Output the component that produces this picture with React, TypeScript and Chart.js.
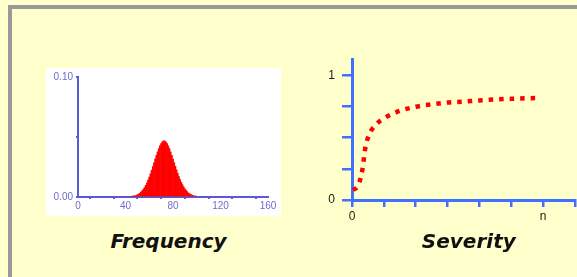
import React, { useEffect, useRef } from "react";
import { Chart, registerables } from "chart.js";

Chart.register(...registerables);

// ---- Frequency histogram data ----
const freqX = [46, 47, 48, 49, 50, 51, 52, 53, 54, 55, 56, 57, 58, 59, 60, 61, 62, 63, 64, 65, 66, 67, 68, 69, 70, 71, 72, 73, 74, 75, 76, 77, 78, 79, 80, 81, 82, 83, 84, 85, 86, 87, 88, 89, 90, 91, 92, 93, 94, 95, 96, 97, 98, 99];
const freqY = [0.0004, 0.0006, 0.0009, 0.0013, 0.0018, 0.0024, 0.0031, 0.004, 0.0051, 0.0064, 0.0079, 0.0097, 0.0117, 0.014, 0.0166, 0.0193, 0.0223, 0.0254, 0.0285, 0.0317, 0.0347, 0.0376, 0.0403, 0.0426, 0.0445, 0.0459, 0.0468, 0.0467, 0.0459, 0.0445, 0.0426, 0.0403, 0.0376, 0.0347, 0.0317, 0.0286, 0.0256, 0.0226, 0.0197, 0.017, 0.0145, 0.0122, 0.0102, 0.0084, 0.0068, 0.0055, 0.0044, 0.0034, 0.0027, 0.002, 0.0015, 0.0011, 0.0008, 0.0005];
const freqXTicks = [0, 40, 80, 120, 160];
const freqYTicks = [0, 0.1];

// ---- Severity curve data ----
const sevX = [0.03, 0.2, 0.33, 0.42, 0.55, 0.75, 1.0, 1.5, 2.0, 2.5, 3.0, 3.5, 4.0, 4.5, 5.0, 5.5, 5.8];
const sevY = [0.08, 0.12, 0.25, 0.42, 0.53, 0.605, 0.655, 0.715, 0.748, 0.768, 0.782, 0.79, 0.799, 0.807, 0.812, 0.817, 0.818];
const sevXLabels: Record<number, string> = { 0: "0", 6: "n" };
const sevYLabels: Record<number, string> = { 0: "0", 1: "1" };

const labelFont = "'DejaVu Sans', Verdana, sans-serif";

function FrequencyChart() {
  const ref = useRef<HTMLCanvasElement>(null);
  useEffect(() => {
    if (!ref.current) return;
    const axisColor = "#5a5ad8";
    const tickColor = "#6c6cd0";
    const chart = new Chart(ref.current, {
      type: "bar",
      data: {
        datasets: [
          {
            data: freqX.map((x, i) => ({ x, y: freqY[i] })),
            backgroundColor: "#ff0000",
            borderWidth: 0,
            barPercentage: 1,
            categoryPercentage: 1,
          },
        ],
      },
      options: {
        animation: false,
        responsive: true,
        maintainAspectRatio: false,
        events: [],
        layout: { padding: { top: 7.7, right: 14, left: 0, bottom: 0 } },
        plugins: { legend: { display: false }, tooltip: { enabled: false } },
        scales: {
          x: {
            type: "linear",
            offset: false,
            min: 0,
            max: 160,
            afterFit: (s: any) => {
              s.height = 19;
            },
            ticks: {
              stepSize: 20,
              maxRotation: 0,
              autoSkip: false,
              padding: 1,
              color: tickColor,
              font: { family: "'Liberation Sans', Arial, sans-serif", size: 10 },
              callback: (v: any) => (freqXTicks.includes(Number(v)) ? String(v) : ""),
            },
            grid: { drawOnChartArea: false, tickLength: 2, color: axisColor, lineWidth: 2 },
            border: { color: axisColor, width: 2 },
          },
          y: {
            min: 0,
            max: 0.1,
            afterFit: (s: any) => {
              s.width = 32;
            },
            ticks: {
              stepSize: 0.05,
              padding: 3,
              color: tickColor,
              font: { family: "'Liberation Sans', Arial, sans-serif", size: 10 },
              callback: (v: any) =>
                freqYTicks.some((t) => Math.abs(t - Number(v)) < 1e-9) ? Number(v).toFixed(2) : "",
            },
            grid: { drawOnChartArea: false, tickLength: 2, color: axisColor, lineWidth: 2 },
            border: { color: axisColor, width: 2 },
          },
        },
      },
    } as any);
    return () => chart.destroy();
  }, []);
  return <canvas ref={ref} />;
}

function SeverityChart() {
  const ref = useRef<HTMLCanvasElement>(null);
  useEffect(() => {
    if (!ref.current) return;
    const blue = "#4070ff";
    const tickFont = { family: "'Liberation Sans', Arial, sans-serif", size: 12 };
    const chart = new Chart(ref.current, {
      type: "line",
      data: {
        datasets: [
          {
            data: sevX.map((x, i) => ({ x, y: sevY[i] })),
            borderColor: "#ff0000",
            borderWidth: 4.5,
            borderDash: [4.5, 6],
            borderCapStyle: "butt",
            pointRadius: 0,
            fill: false,
            cubicInterpolationMode: "monotone",
          },
        ],
      },
      options: {
        animation: false,
        responsive: true,
        maintainAspectRatio: false,
        events: [],
        layout: { padding: { top: 10, right: 0, left: 0, bottom: 0 } },
        plugins: { legend: { display: false }, tooltip: { enabled: false } },
        scales: {
          x: {
            type: "linear",
            min: 0,
            max: 7.02,
            afterFit: (s: any) => {
              s.height = 30;
            },
            ticks: {
              stepSize: 1,
              includeBounds: false,
              autoSkip: false,
              maxRotation: 0,
              padding: 2,
              color: "#1a1a1a",
              font: tickFont,
              callback: (v: any) => sevXLabels[Number(v)] ?? "",
            },
            grid: { drawOnChartArea: false, tickLength: 7, color: blue, lineWidth: 2.5 },
            border: { color: blue, width: 3 },
          },
          y: {
            min: 0,
            max: 1.13,
            afterFit: (s: any) => {
              s.width = 52;
            },
            ticks: {
              stepSize: 0.25,
              includeBounds: false,
              padding: 7,
              color: "#1a1a1a",
              font: tickFont,
              callback: (v: any) => sevYLabels[Number(v)] ?? "",
            },
            grid: { drawOnChartArea: false, tickLength: 10, color: blue, lineWidth: 2.5 },
            border: { color: blue, width: 3 },
          },
        },
      },
    } as any);
    return () => chart.destroy();
  }, []);
  return <canvas ref={ref} />;
}

export default function App() {
  const caption: React.CSSProperties = {
    position: "absolute",
    width: 200,
    textAlign: "center",
    fontFamily: labelFont,
    fontWeight: "bold",
    fontStyle: "italic",
    fontSize: 20,
    lineHeight: "24px",
    color: "#111",
    top: 229,
  };
  return (
    <div
      style={{
        position: "fixed",
        left: 0,
        top: 0,
        width: 577,
        height: 277,
        background: "#ffffcc",
        overflow: "hidden",
      }}
    >
      <div
        style={{
          position: "absolute",
          left: 8,
          top: 5,
          width: 700,
          height: 400,
          borderLeft: "4px solid #999999",
          borderTop: "4px solid #999999",
        }}
      />
      <div style={{ position: "absolute", left: 46, top: 68, width: 235, height: 148, background: "#ffffff" }}>
        <div style={{ position: "absolute", left: 0, top: 0, width: 236, height: 148 }}>
          <FrequencyChart />
        </div>
      </div>
      <div style={{ position: "absolute", left: 300, top: 45, width: 277, height: 185 }}>
        <SeverityChart />
      </div>
      <div style={{ ...caption, left: 168.5 - 100 }}>Frequency</div>
      <div style={{ ...caption, left: 468.8 - 100 }}>Severity</div>
    </div>
  );
}
